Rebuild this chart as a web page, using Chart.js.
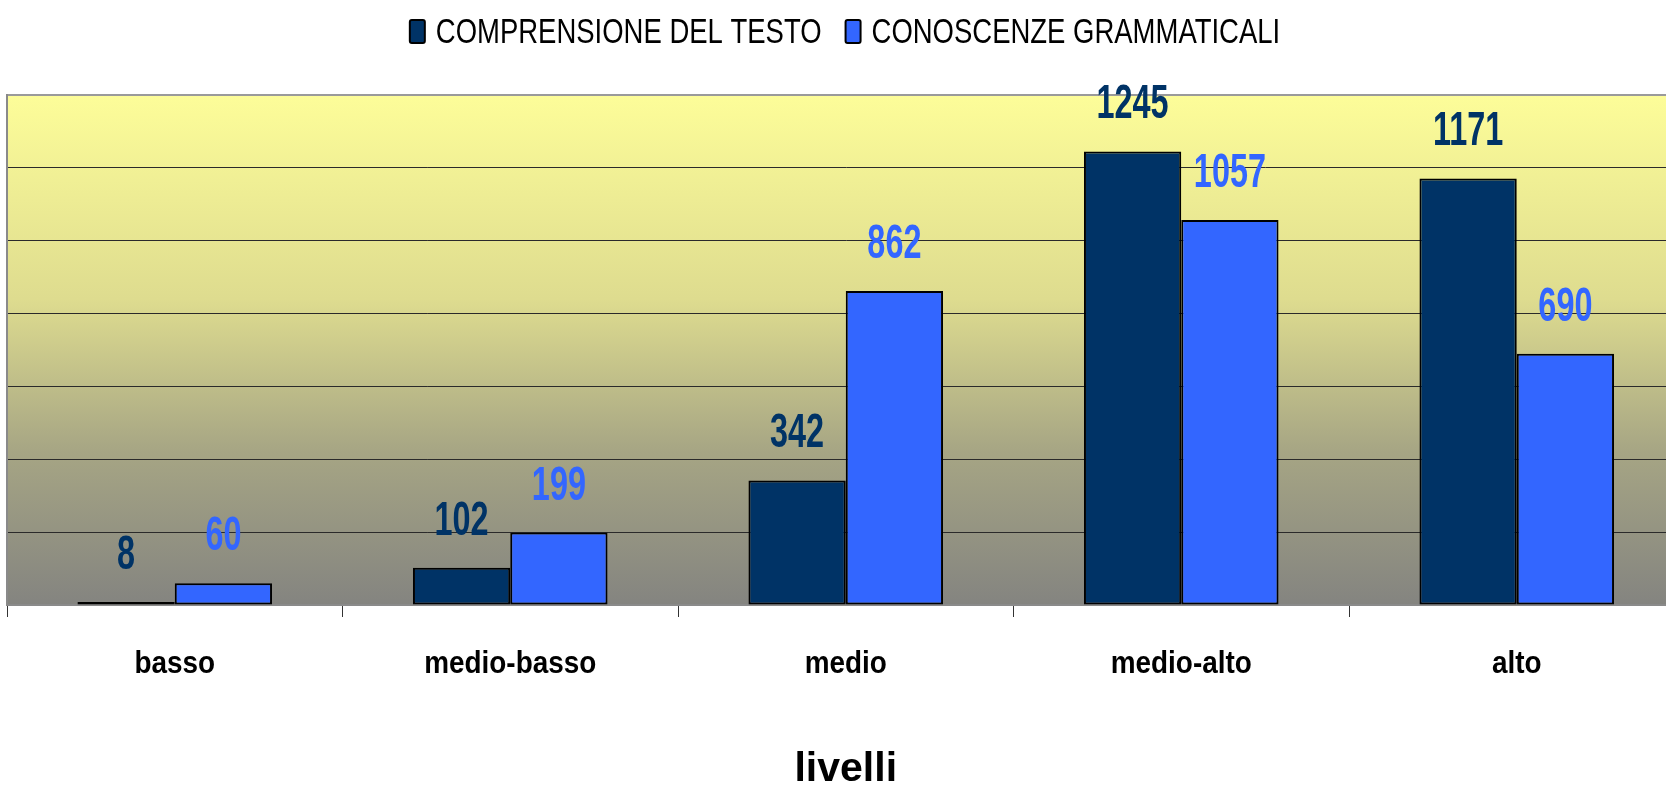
<!DOCTYPE html>
<html>
<head>
<meta charset="utf-8">
<script src="https://cdn.jsdelivr.net/npm/chart.js@4"></script>
<style>
  html, body { margin: 0; padding: 0; background: #fff; overflow: hidden; }
  #wrap { width: 1692px; height: 786px; position: relative; }
</style>
</head>
<body>
<div id="wrap"><canvas id="livelliChart"></canvas></div>
<script>
// Dati del grafico
const categorie = ["basso", "medio-basso", "medio", "medio-alto", "alto"];
const comprensione = [8, 102, 342, 1245, 1171];
const grammatica = [60, 199, 862, 1057, 690];
const nomiSerie = ["COMPRENSIONE DEL TESTO", "CONOSCENZE GRAMMATICALI"];
const titoloAsse = "livelli";

const FONT = "'Liberation Sans', Arial, sans-serif";
const COL_SCURO = "#003366";
const COL_BLU = "#3366FF";

// testo "stretto" come nell'originale (scala orizzontale)
function testo(ctx, str, x, y, font, scalaX, colore, allinea) {
  ctx.save();
  ctx.translate(x, y);
  ctx.scale(scalaX, 1);
  ctx.font = font;
  ctx.fillStyle = colore;
  ctx.textAlign = allinea || "center";
  ctx.textBaseline = "alphabetic";
  ctx.fillText(str, 0, 0);
  ctx.restore();
}

// Sfondo sfumato dell'area del grafico (giallo -> grigio)
const sfondoArea = {
  id: "sfondoArea",
  beforeDraw(chart) {
    const { ctx, chartArea: a } = chart;
    const g = ctx.createLinearGradient(0, a.top, 0, a.bottom);
    g.addColorStop(0, "#FDFD99");
    g.addColorStop(0.4, "#DEDC8F");
    g.addColorStop(0.7, "#A6A584");
    g.addColorStop(1, "#848480");
    ctx.save();
    ctx.fillStyle = g;
    ctx.fillRect(a.left, a.top, a.right - a.left, a.bottom - a.top);
    ctx.restore();
  }
};

// Valori sopra le barre, etichette categorie, titolo asse e legenda
const testi = {
  id: "testi",
  afterDraw(chart) {
    const ctx = chart.ctx;
    const a = chart.chartArea;
    const x = chart.scales.x;

    chart.data.datasets.forEach((ds, i) => {
      chart.getDatasetMeta(i).data.forEach((bar, j) => {
        testo(ctx, String(ds.data[j]), bar.x, bar.y - 33, "bold 48px " + FONT, 0.675, ds.labelColor);
      });
    });

    categorie.forEach((c, i) => {
      testo(ctx, c, x.getPixelForValue(i), 673, "bold 31px " + FONT, 0.9, "#000");
    });

    testo(ctx, titoloAsse, (a.left + a.right) / 2, 781, "bold 41px " + FONT, 1, "#000");

    // legenda
    const fLeg = "35px " + FONT, sx = 0.785;
    ctx.save();
    ctx.font = fLeg;
    const w = chart.data.datasets.map(ds => ctx.measureText(ds.label).width * sx);
    ctx.restore();
    const box = 15, gap = 11, sep = 24;
    const tot = box + gap + w[0] + sep + box + gap + w[1];
    let px = 845 - tot / 2;
    chart.data.datasets.forEach((ds, i) => {
      ctx.save();
      ctx.fillStyle = ds.backgroundColor;
      ctx.strokeStyle = "#000";
      ctx.lineWidth = 2;
      ctx.beginPath();
      ctx.roundRect(px, 20, box, 23, 2);
      ctx.fill();
      ctx.stroke();
      ctx.restore();
      px += box + gap;
      testo(ctx, ds.label, px, 43, fLeg, sx, "#000", "left");
      px += w[i] + sep;
    });
  }
};

const ctx = document.getElementById("livelliChart").getContext("2d");
new Chart(ctx, {
  type: "bar",
  data: {
    labels: categorie,
    datasets: [
      {
        label: nomiSerie[0],
        data: comprensione,
        backgroundColor: COL_SCURO,
        borderColor: "#000000",
        borderWidth: 2,
        borderSkipped: false,
        labelColor: COL_SCURO,
        categoryPercentage: 0.58,
        barPercentage: 1.0
      },
      {
        label: nomiSerie[1],
        data: grammatica,
        backgroundColor: COL_BLU,
        borderColor: "#000000",
        borderWidth: 2,
        borderSkipped: false,
        labelColor: COL_BLU,
        categoryPercentage: 0.58,
        barPercentage: 1.0
      }
    ]
  },
  options: {
    responsive: true,
    maintainAspectRatio: false,
    animation: false,
    layout: { padding: { left: 7, right: 7.5, top: 95, bottom: 169 } },
    plugins: {
      legend: { display: false },
      tooltip: { enabled: false }
    },
    scales: {
      x: {
        grid: {
          drawOnChartArea: false,
          color: "#333",
          tickLength: 12,
          offset: true
        },
        border: { color: "#8a8a8a", width: 2 },
        ticks: { display: false }
      },
      y: {
        min: 0,
        max: 1400,
        ticks: { display: false, stepSize: 200 },
        grid: {
          drawTicks: false,
          color: (c) => (c.tick && c.tick.value === 1400 ? "#9a9a9a" : "#2a2a2a"),
          lineWidth: (c) => (c.tick && c.tick.value === 1400 ? 2 : 1)
        },
        border: { color: "#8a8a8a", width: 2 }
      }
    }
  },
  plugins: [sfondoArea, testi]
});
</script>
</body>
</html>
